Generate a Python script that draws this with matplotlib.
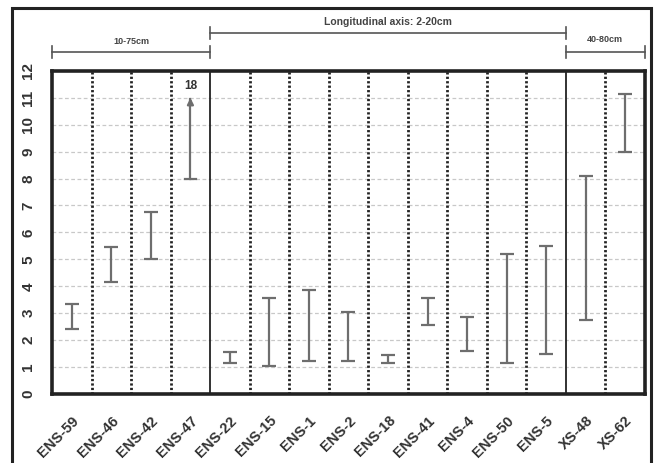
import numpy as np
import matplotlib
matplotlib.use('Agg')
import matplotlib.pyplot as plt
import matplotlib.transforms as mtransforms
from matplotlib.patches import Rectangle

plt.rcParams['font.family'] = ['Liberation Sans', 'DejaVu Sans']

samples = ['ENS-59', 'ENS-46', 'ENS-42', 'ENS-47', 'ENS-22', 'ENS-15', 'ENS-1',
           'ENS-2', 'ENS-18', 'ENS-41', 'ENS-4', 'ENS-50', 'ENS-5', 'XS-48', 'XS-62']
low = [2.4, 4.15, 5.0, 8.0, 1.15, 1.05, 1.22, 1.22, 1.15, 2.55, 1.6, 1.15, 1.5, 2.75, 9.0]
high = [3.35, 5.45, 6.75, 11.1, 1.55, 3.55, 3.85, 3.05, 1.45, 3.55, 2.85, 5.2, 5.5, 8.1, 11.15]
open_ended = {'ENS-47': '18'}  # upper end beyond the axis

groups = [('10-75cm', -0.5, 3.5, 1.059, 1.092, 6.5),
          ('Longitudinal axis: 2-20cm', 3.5, 12.5, 1.118, 1.152, 7.5),
          ('40-80cm', 12.5, 14.5, 1.059, 1.098, 6.5)]

fig = plt.figure(figsize=(6.6, 4.63), dpi=100)
ax = fig.add_axes([0.079, 0.149, 0.898, 0.698])

x = np.arange(len(samples))
bar_col = '#6e6e6e'
for i, name in enumerate(samples):
    if name in open_ended:
        ax.plot([i, i], [low[i], high[i] - 0.15], color=bar_col, lw=1.6)
        ax.annotate('', xy=(i, high[i]), xytext=(i, high[i] - 0.4),
                    arrowprops=dict(arrowstyle='-|>', color=bar_col, lw=1.6,
                                    mutation_scale=9))
        ax.plot([i - 0.13, i + 0.13], [low[i], low[i]], color=bar_col, lw=1.6)
        ax.text(i, high[i] + 0.1, open_ended[name], ha='center', va='bottom',
                fontsize=8.5, fontweight='bold', color='#333333')
    else:
        half = (high[i] - low[i]) / 2
        ax.errorbar(i, low[i] + half, yerr=[[half], [half]],
                    fmt='none', ecolor=bar_col, elinewidth=1.6, capsize=5, capthick=1.6)

# horizontal grid
for yv in range(1, 12):
    ax.axhline(yv, color='#c8c8c8', lw=0.9, ls=(0, (3, 2)), zorder=0)

# category dividers
bounds = [3.5, 12.5]
for b in np.arange(0.5, len(samples) - 0.5, 1.0):
    if b in bounds:
        ax.axvline(b, color='#222222', lw=1.3, zorder=1)
    else:
        ax.axvline(b, color='#222222', lw=2.0, ls=(0, (0.8, 0.8)), zorder=1)

ax.set_xlim(-0.5, len(samples) - 0.5)
ax.set_ylim(0, 12)
ax.set_yticks(range(0, 13))
ax.set_yticklabels([str(v) for v in range(0, 13)], rotation=90, va='center',
                   fontsize=11, fontweight='bold', color='#333333')
ax.set_xticks(x)
ax.set_xticklabels(samples, rotation=45, ha='right', rotation_mode='anchor',
                   fontsize=10.5, fontweight='bold', color='#333333')
ax.tick_params(axis='both', length=0)
ax.tick_params(axis='y', pad=12)
ax.tick_params(axis='x', pad=14)
for s in ax.spines.values():
    s.set_linewidth(2.6)
    s.set_color('#222222')

# group brackets above the axes
trans = mtransforms.blended_transform_factory(ax.transData, ax.transAxes)
for label, x0, x1, yb, yt, fs in groups:
    ax.plot([x0, x1], [yb, yb], color='#555555', lw=1.2, transform=trans, clip_on=False)
    for xe in (x0, x1):
        ax.plot([xe, xe], [yb - 0.018, yb + 0.018], color='#555555', lw=1.2,
                transform=trans, clip_on=False)
    ax.text((x0 + x1) / 2, yt, label, ha='center', va='center', fontsize=fs,
            fontweight='bold', color='#444444', transform=trans)

# outer frame
fig.patches.append(Rectangle((12 / 660, -0.05), (651 - 12) / 660, 1.05 - 8 / 463,
                             transform=fig.transFigure, fill=False,
                             edgecolor='#222222', lw=2.2))

fig.savefig('out.png', dpi=100)
